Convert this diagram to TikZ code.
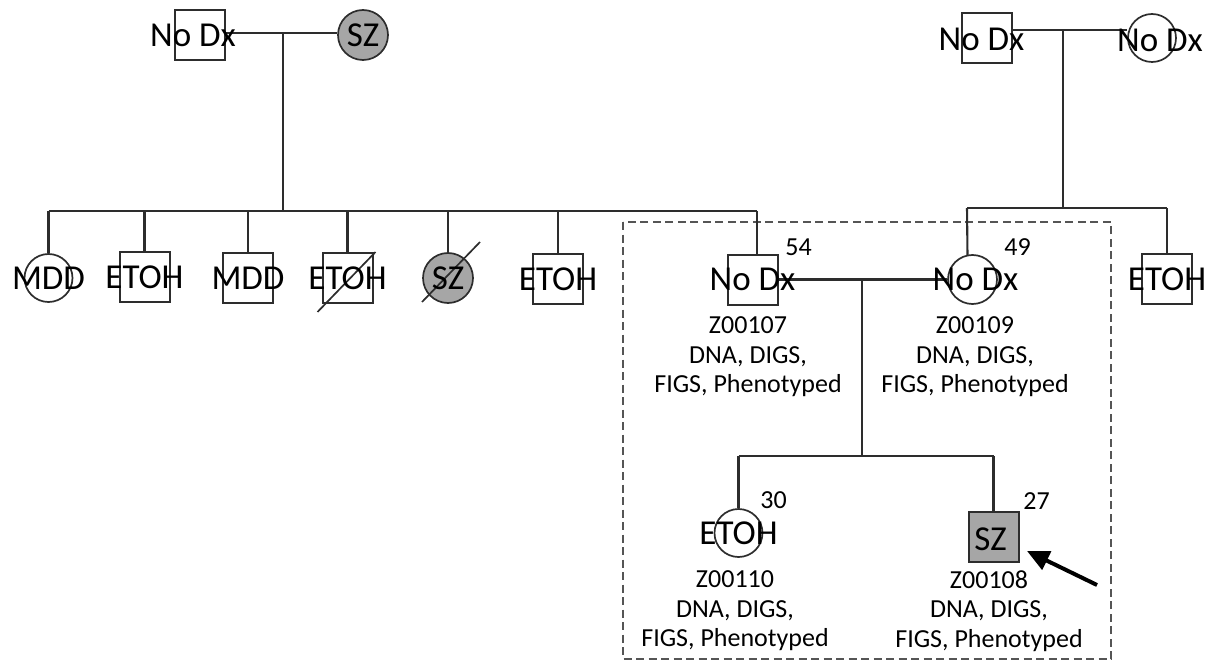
\documentclass[tikz,border=0pt]{standalone}
\usepackage{fontspec}
\setmainfont{Carlito}
\usetikzlibrary{arrows.meta,calc}
\definecolor{affgray}{RGB}{166,166,166}
\definecolor{linegray}{RGB}{45,45,45}
\definecolor{boxgray}{RGB}{85,85,85}
\begin{document}
\begin{tikzpicture}[x=1pt,y=-1pt,
  ln/.style={draw=linegray, line width=2.1pt},
  sq/.style={rectangle, draw=linegray, line width=2pt, minimum size=50pt, inner sep=0pt},
  ci/.style={circle, draw=linegray, line width=1.7pt, minimum size=48pt, inner sep=0pt},
  aff/.style={fill=affgray},
  sym/.style={font=\fontsize{35}{40}\selectfont, inner sep=0pt},
  info/.style={font=\fontsize{26}{29.5}\selectfont, align=center, anchor=north, inner sep=0pt},
  age/.style={font=\fontsize{26}{30}\selectfont, inner sep=0pt},
  slash/.style={draw=linegray, line width=1.7pt},
  box/.style={draw=boxgray, line width=2.7pt, dash pattern=on 8pt off 4.5pt},
  pointer/.style={draw=black, line width=4pt, -{Triangle[length=22pt,width=20pt]}},
]
\useasboundingbox (0,0) rectangle (1212,663);

% dashed frame
\draw[box] (623,222) rectangle (1111,659);

% ---------- generation I ----------
\node[sq] (a1) at (200,35) {};
\node[ci, aff, minimum size=50pt] (a2) at (363,35) {};
\node[sq] (b1) at (986.5,38) {};
\node[ci] (b2) at (1152,38) {};

% ---------- generation II ----------
\node[ci] (c1) at (48.5,278) {};
\node[sq] (c2) at (144.5,277) {};
\node[sq] (c3) at (248,278) {};
\node[sq] (c4) at (347.5,278) {};
\node[ci, aff, minimum size=50pt] (c5) at (448,278) {};
\node[sq] (c6) at (558,279) {};
\node[sq] (z107) at (752.5,279.5) {};
\node[ci, minimum size=49pt] (z109) at (972.5,279.5) {};
\node[sq] (c9) at (1167,279) {};

% ---------- generation III ----------
\node[ci] (z110) at (738.5,533) {};
\node[sq, aff] (z108) at (993.5,536.5) {};

% ---------- connectors ----------
\coordinate (mA) at (283,33);
\coordinate (sA1) at (48.5,211);
\coordinate (sA2) at (757,211);
\draw[ln] (a1.east |- mA) -- (a2.west |- mA);
\draw[ln] (mA) -- (mA |- sA1);
\draw[ln] (sA1) -- (sA2);
\foreach \n in {c1,c2,c3,c4,c5,c6} \draw[ln] (\n.north) -- (\n.north |- sA1);
\draw[ln] (sA2) -- (sA2 |- z107.north);

\coordinate (mB) at (1063,30);
\coordinate (sB1) at (967,208);
\coordinate (sB2) at (1167,208);
\draw[ln] (b1.east |- mB) -- (b2.west |- mB);
\draw[ln] (mB) -- (mB |- sB1);
\draw[ln] (sB1) -- (sB2);
\draw[ln] (sB1) -- ($(z109.center)+(-5,-23.5)$);
\draw[ln] (sB2) -- (c9.north);

\coordinate (mC) at (862,279.5);
\coordinate (sC1) at (738.5,456);
\coordinate (sC2) at (993.5,456);
\draw[ln] (z107.east) -- (z109.west);
\draw[ln] (mC) -- (mC |- sC1);
\draw[ln] (sC1) -- (sC2);
\draw[ln] (sC1) -- (z110.north);
\draw[ln] (sC2) -- (z108.north);

% deceased slashes
\draw[slash] ($(c4.center)+(-30,34)$) -- ($(c4.center)+(28,-26)$);
\draw[slash] ($(c5.center)+(-26,24)$) -- ($(c5.center)+(32,-36)$);

% ---------- symbol labels ----------
\node[sym] (a1t) at ($(a1)+(-7,0)$) {No Dx};
\node[sym] (a2t) at (a2) {SZ};
\node[sym] (b1t) at ($(b1)+(-5,1)$) {No Dx};
\node[sym] (b2t) at ($(b2)+(8,2)$) {No Dx};
\node[sym] (c1t) at (c1) {MDD};
\node[sym] (c2t) at (c2) {ETOH};
\node[sym] (c3t) at (c3) {MDD};
\node[sym] (c4t) at (c4) {ETOH};
\node[sym] (c5t) at (c5) {SZ};
\node[sym] (c6t) at (c6) {ETOH};
\node[sym] (z107t) at (z107) {No Dx};
\node[sym] (z109t) at ($(z109)+(3,0)$) {No Dx};
\node[sym] (c9t) at (c9) {ETOH};
\node[sym] (z110t) at (z110) {ETOH};
\node[sym] (z108t) at ($(z108)+(-3,3)$) {SZ};

% ---------- ages ----------
\node[age] (g54) at (798.5,247) {54};
\node[age] (g49) at (1017.5,247) {49};
\node[age] (g30) at (773.5,500) {30};
\node[age] (g27) at (1036.5,501) {27};

% ---------- info ----------
\node[info] (i107) at (748,316.5) {Z00107\\DNA, DIGS,\\FIGS, Phenotyped};
\node[info] (i109) at (975,316.5) {Z00109\\DNA, DIGS,\\FIGS, Phenotyped};
\node[info] (i110) at (735,570.5) {Z00110\\DNA, DIGS,\\FIGS, Phenotyped};
\node[info] (i108) at (989,570.5) {Z00108\\DNA, DIGS,\\FIGS, Phenotyped};

% ---------- proband arrow ----------
\coordinate (tail) at (1097,585);
\coordinate (tip) at (1027,551);
\draw[pointer] (tail) -- (tip);
\end{tikzpicture}
\end{document}
